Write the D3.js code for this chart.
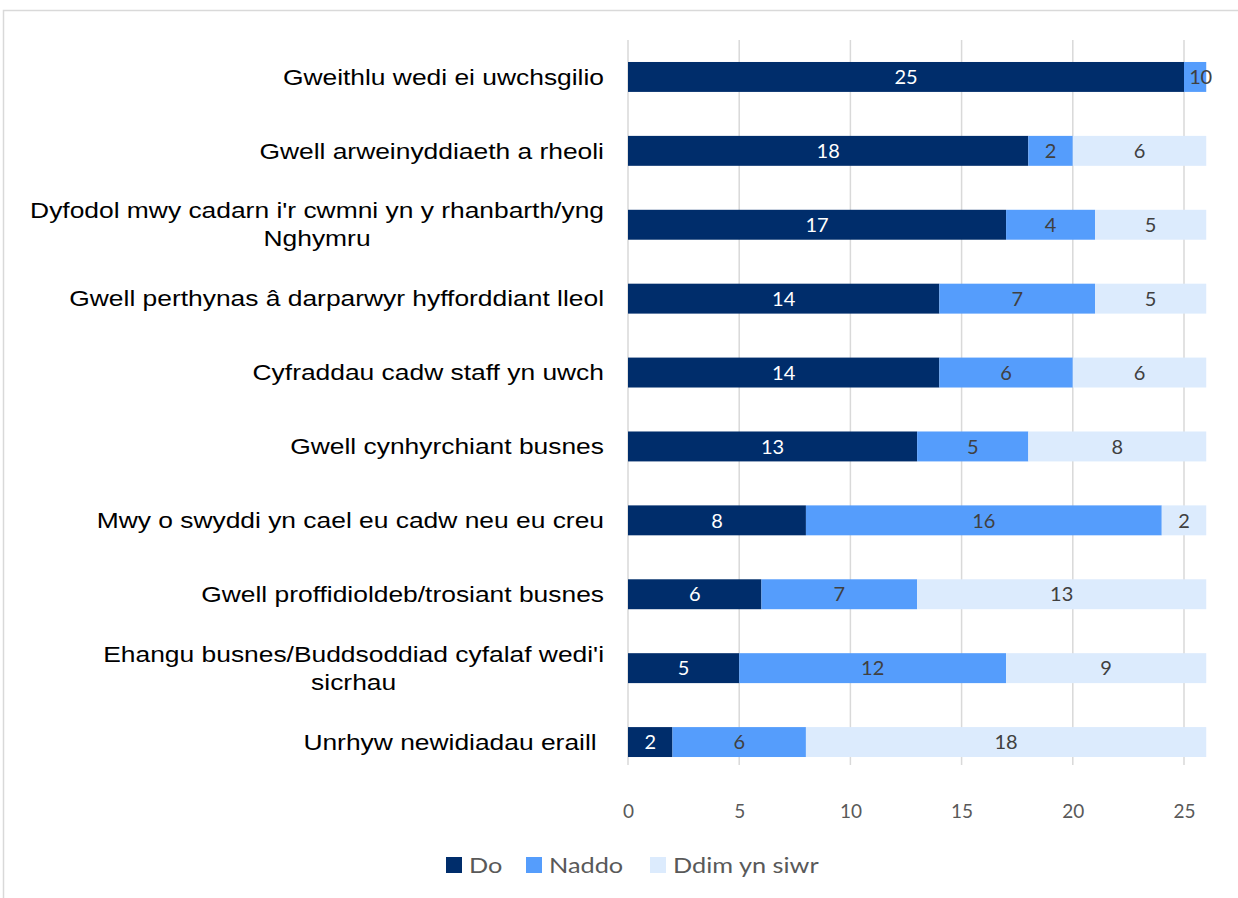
<!DOCTYPE html>
<html><head><meta charset="utf-8">
<script src="https://cdn.jsdelivr.net/npm/d3@7"></script>
<style>
html,body{margin:0;padding:0;background:#fff;}
svg{display:block;}
</style></head>
<body>
<svg id="chart" width="1238" height="898"></svg>
<script>
const categories = [
  ["Gweithlu wedi ei uwchsgilio"],
  ["Gwell arweinyddiaeth a rheoli"],
  ["Dyfodol mwy cadarn i'r cwmni yn y rhanbarth/yng", "Nghymru"],
  ["Gwell perthynas â darparwyr hyfforddiant lleol"],
  ["Cyfraddau cadw staff yn uwch"],
  ["Gwell cynhyrchiant busnes"],
  ["Mwy o swyddi yn cael eu cadw neu eu creu"],
  ["Gwell proffidioldeb/trosiant busnes"],
  ["Ehangu busnes/Buddsoddiad cyfalaf wedi'i", "sicrhau"],
  ["Unrhyw newidiadau eraill "]
];
const seriesNames = ["Do", "Naddo", "Ddim yn siwr"];
const doValues    = [25, 18, 17, 14, 14, 13, 8, 6, 5, 2];
const naddoValues = [1, 2, 4, 7, 6, 5, 16, 7, 12, 6];
const ddimValues  = [0, 6, 5, 5, 6, 8, 2, 13, 9, 18];
const xTicks = [0, 5, 10, 15, 20, 25];
const colors = ["#002d6b", "#559dfc", "#dcebfd"];
const labelColors = ["#ffffff", "#404040", "#404040"];

const svg = d3.select("#chart");
// outer frame
svg.append("path").attr("d", "M3.5,898 L3.5,10.5 L1238,10.5")
  .attr("fill", "none").attr("stroke", "#d9d9d9").attr("stroke-width", 1.5);

const x = d3.scaleLinear().domain([0, 25]).range([628, 1184]);
const y = d3.scaleBand().domain(d3.range(categories.length)).range([40, 779]).paddingInner(0.595).paddingOuter(0.2975);

// gridlines
svg.append("g").selectAll("line").data(xTicks).join("line")
  .attr("x1", d => x(d)).attr("x2", d => x(d))
  .attr("y1", 40).attr("y2", 765)
  .attr("stroke", "#d9d9d9").attr("stroke-width", 1.5);

// axis tick labels
const axis = d3.axisBottom(x).tickValues(xTicks).tickSize(0).tickPadding(0);
const axG = svg.append("g").attr("transform", "translate(0,804)").call(axis);
axG.select(".domain").remove();
axG.selectAll("text").attr("font-family", "Lato, 'Open Sans', sans-serif")
  .attr("font-size", 19).attr("fill", "#595959").attr("dy", "0.71em");

const series = [doValues, naddoValues, ddimValues];
const stackData = categories.map((c, i) => ({i, v: series.map(s => s[i])}));

stackData.forEach(d => {
  let acc = 0;
  d.v.forEach((val, k) => {
    const x0 = acc, x1 = acc + val;
    acc = x1;
    const yc = y(d.i) + y.bandwidth() / 2;
    if (val > 0) {
      svg.append("rect").attr("x", x(x0)).attr("y", y(d.i))
        .attr("width", x(x1) - x(x0)).attr("height", y.bandwidth())
        .attr("fill", colors[k]);
    }
    svg.append("text").attr("x", (x(x0) + x(x1)) / 2).attr("y", yc)
      .attr("dy", "0.36em").attr("text-anchor", "middle")
      .attr("font-family", "Lato, 'Open Sans', sans-serif").attr("font-size", 20)
      .attr("fill", labelColors[k]).text(val);
  });
});

// category labels
const labG = svg.append("g");
categories.forEach((lines, i) => {
  const yc = y(i) + y.bandwidth() / 2;
  const g = labG.append("g").attr("transform", `translate(604,0) scale(1.2,1)`);
  const t = g.append("text").attr("font-family", "'Liberation Sans', Arial, sans-serif")
    .attr("font-size", 22).attr("fill", "#000").attr("text-anchor", "middle")
    .attr("xml:space", "preserve");
  const lh = 28;
  const tsp = lines.map((ln, j) => t.append("tspan").attr("y", yc - (lines.length - 1) * lh / 2 + j * lh).attr("dy", "0.35em").text(ln));
  const widths = tsp.map(s => s.node().getComputedTextLength());
  const w = d3.max(widths);
  tsp.forEach(s => s.attr("x", -w / 2));
});

// legend
const legendX = [446, 526, 650];
const lg = svg.append("g");
seriesNames.forEach((n, k) => {
  lg.append("rect").attr("x", legendX[k]).attr("y", 857).attr("width", 16).attr("height", 16).attr("fill", colors[k]);
  lg.append("g").attr("transform", `translate(${legendX[k] + 23},865) scale(1.15,1)`)
    .append("text").attr("x", 0).attr("y", 0).attr("dy", "0.36em")
    .attr("font-family", "Lato, 'Open Sans', sans-serif").attr("font-size", 22)
    .attr("fill", "#595959").text(n);
});
</script>
</body></html>
